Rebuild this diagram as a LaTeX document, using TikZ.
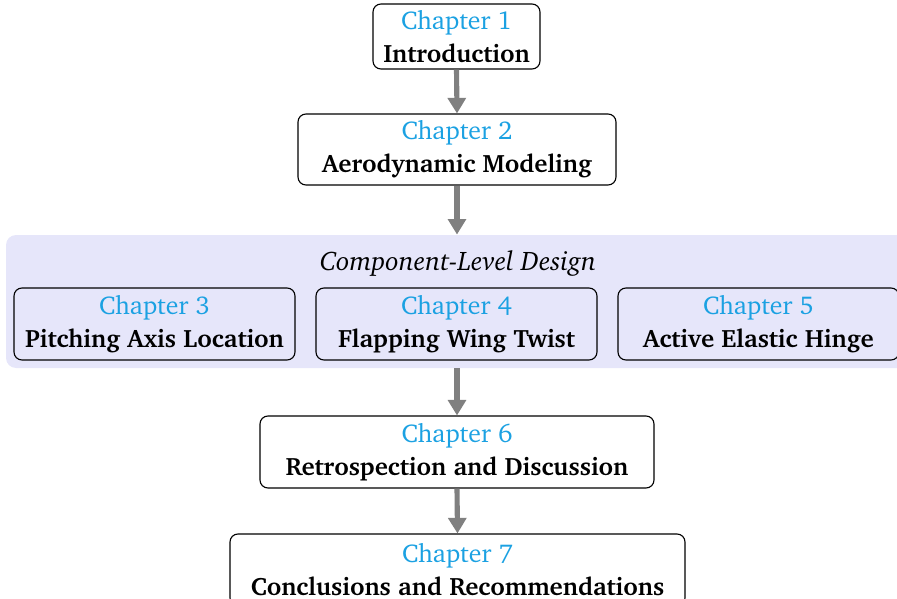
\documentclass[tikz,border=0pt]{standalone}
\usepackage[T1]{fontenc}
\usepackage{charter}
\usetikzlibrary{arrows.meta}
\definecolor{chapcyan}{HTML}{1BA1E2}
\definecolor{bglav}{HTML}{E6E6FA}
\def\pxu{0.45pt}
\newcommand\chapline[1]{{\fontsize{11.6}{14.85}\selectfont\color{chapcyan}Chapter #1}}
\newcommand\titline[1]{{\fontsize{11.3}{14.85}\selectfont\bfseries #1}}
\begin{document}
\begin{tikzpicture}[x=\pxu,y=-\pxu,
  chapbox/.style={draw=black, line width=0.5pt, rounded corners=3.6pt, align=center, inner sep=0pt, font=\fontsize{11.3}{14.85}\selectfont},
  flow/.style={draw=gray, line width=2.3pt, -{Triangle[width=8pt,length=7pt]}}]
\useasboundingbox (0,0) rectangle (897,599);
\clip (0,0) rectangle (897,599);
\node[fill=bglav, rounded corners=4.5pt, minimum width=902*\pxu, minimum height=133*\pxu, inner sep=0pt] (bg) at (457,301.5) {};
\node[font=\fontsize{12.1}{14}\selectfont\itshape] (title) at (458,263) {Component-Level Design};
\node[chapbox, minimum width=167*\pxu, minimum height=65*\pxu] (c1) at (456.5,36.5) {\chapline{1}\\\titline{Introduction}};
\node[chapbox, minimum width=318*\pxu, minimum height=71*\pxu] (c2) at (457,149.5) {\chapline{2}\\\titline{Aerodynamic Modeling}};
\node[chapbox, minimum width=281*\pxu, minimum height=72*\pxu] (c3) at (154.5,324) {\chapline{3}\\\titline{Pitching Axis Location}};
\node[chapbox, minimum width=281*\pxu, minimum height=72*\pxu] (c4) at (456.5,324) {\chapline{4}\\\titline{Flapping Wing Twist}};
\node[chapbox, minimum width=281*\pxu, minimum height=72*\pxu] (c5) at (758.5,324) {\chapline{5}\\\titline{Active Elastic Hinge}};
\node[chapbox, minimum width=394*\pxu, minimum height=72*\pxu] (c6) at (457,452) {\chapline{6}\\\titline{Retrospection and Discussion}};
\node[chapbox, minimum width=455*\pxu, minimum height=72*\pxu] (c7) at (457.5,570) {\chapline{7}\\\titline{Conclusions and Recommendations}};
\draw[flow] (c1.south) -- (c2.north);
\draw[flow] (c2.south) -- (bg.north);
\draw[flow] (bg.south) -- (c6.north);
\draw[flow] (c6.south) -- (c7.north);
\end{tikzpicture}
\end{document}
